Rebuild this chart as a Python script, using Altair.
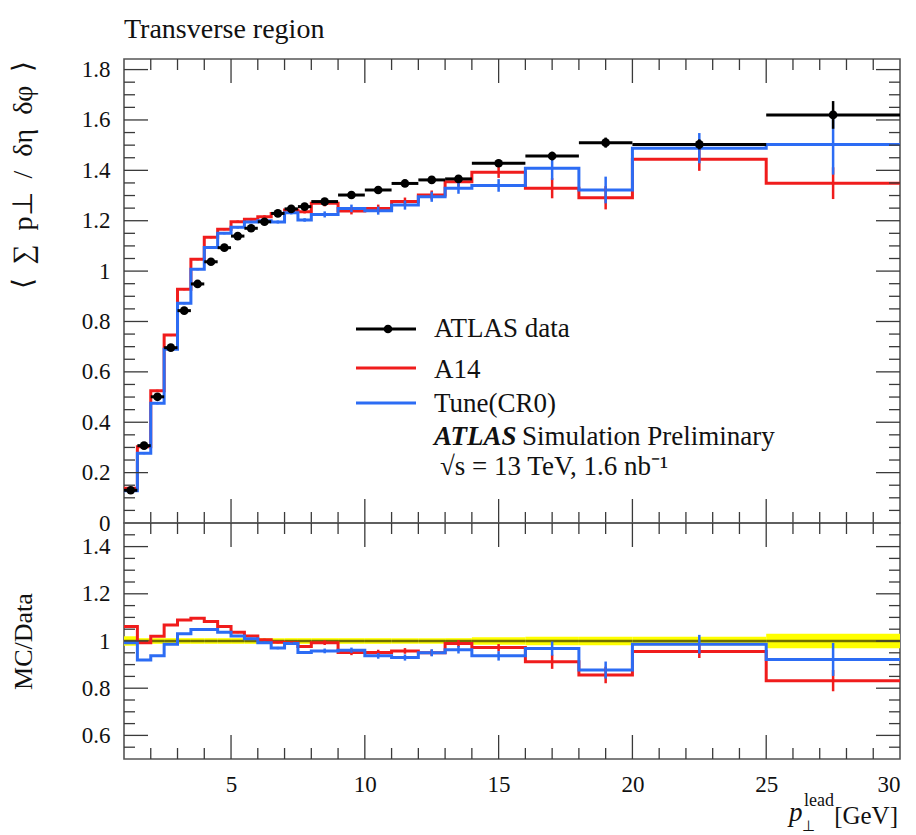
import altair as alt
import pandas as pd

# ---------------- data ----------------
edges = [1.0, 1.5, 2.0, 2.5, 3.0, 3.5, 4.0, 4.5, 5.0, 5.5, 6.0, 6.5, 7.0, 7.5, 8.0,
         9.0, 10.0, 11.0, 12.0, 13.0, 14.0, 16.0, 18.0, 20.0, 25.0, 30.0]

data_y = [0.130, 0.307, 0.501, 0.696, 0.843, 0.949, 1.037, 1.093, 1.139, 1.170,
          1.196, 1.229, 1.247, 1.256, 1.276, 1.302, 1.322, 1.348, 1.362, 1.366,
          1.428, 1.457, 1.510, 1.503, 1.620]
data_err = [0.004, 0.004, 0.004, 0.004, 0.004, 0.004, 0.004, 0.004, 0.004, 0.004,
            0.004, 0.004, 0.004, 0.004, 0.006, 0.006, 0.006, 0.007, 0.008, 0.008,
            0.010, 0.017, 0.020, 0.020, 0.055]

a14_y = [0.138, 0.303, 0.525, 0.746, 0.928, 1.047, 1.134, 1.166, 1.196, 1.206,
         1.216, 1.229, 1.243, 1.236, 1.269, 1.239, 1.249, 1.276, 1.302, 1.355,
         1.392, 1.329, 1.291, 1.444, 1.349]
a14_err = [0.004, 0.004, 0.004, 0.004, 0.004, 0.004, 0.004, 0.004, 0.005, 0.005,
           0.006, 0.006, 0.007, 0.007, 0.012, 0.014, 0.015, 0.016, 0.018, 0.020,
           0.022, 0.040, 0.046, 0.046, 0.063]

cr0_y = [0.128, 0.277, 0.475, 0.690, 0.872, 1.007, 1.094, 1.150, 1.174, 1.195,
         1.200, 1.195, 1.232, 1.203, 1.225, 1.249, 1.240, 1.262, 1.295, 1.329,
         1.340, 1.408, 1.322, 1.488, 1.503]
cr0_err = [0.004, 0.004, 0.004, 0.004, 0.004, 0.004, 0.004, 0.004, 0.005, 0.005,
           0.006, 0.006, 0.007, 0.007, 0.012, 0.015, 0.016, 0.018, 0.020, 0.022,
           0.025, 0.046, 0.053, 0.060, 0.120]

a14_ratio = [1.061, 0.993, 1.020, 1.068, 1.089, 1.096, 1.083, 1.061, 1.037, 1.021,
             1.005, 0.995, 0.993, 0.977, 0.993, 0.951, 0.951, 0.958, 0.950, 0.989,
             0.972, 0.912, 0.856, 0.956, 0.832]
a14_rerr = [0.003, 0.003, 0.003, 0.003, 0.003, 0.003, 0.003, 0.003, 0.004, 0.004,
            0.005, 0.005, 0.005, 0.005, 0.010, 0.011, 0.012, 0.012, 0.013, 0.015,
            0.015, 0.030, 0.035, 0.028, 0.045]

cr0_ratio = [0.993, 0.919, 0.937, 0.986, 1.031, 1.049, 1.049, 1.037, 1.021, 1.010,
             0.993, 0.970, 0.989, 0.951, 0.958, 0.961, 0.937, 0.930, 0.950, 0.963,
             0.937, 0.968, 0.877, 0.986, 0.922]
cr0_rerr = [0.003, 0.003, 0.003, 0.003, 0.003, 0.003, 0.003, 0.003, 0.004, 0.004,
            0.005, 0.005, 0.005, 0.005, 0.010, 0.011, 0.012, 0.013, 0.015, 0.016,
            0.020, 0.030, 0.036, 0.040, 0.070]

band_err = [0.020, 0.012, 0.012, 0.012, 0.012, 0.012, 0.012, 0.012, 0.012, 0.012,
            0.012, 0.012, 0.012, 0.012, 0.012, 0.012, 0.012, 0.012, 0.012, 0.012,
            0.016, 0.018, 0.018, 0.018, 0.031]

x_tick_labels = [5, 10, 15, 20, 25, 30]
top_y_labels = [0, 0.2, 0.4, 0.6, 0.8, 1.0, 1.2, 1.4, 1.6, 1.8]
bot_y_labels = [0.6, 0.8, 1.0, 1.2, 1.4]

# ---------------- styling ----------------
W, H1, H2 = 776, 464, 236
FONT = "Liberation Serif"
RED = "#f01c1c"
BLUE = "#2c6cf4"
TICK = "#3a3a3a"
MAJ, MIN = 24, 11
NB = "\u00a0"

lo = edges[:-1]
hi = edges[1:]
mid = [(a + b) / 2 for a, b in zip(lo, hi)]

bins = pd.DataFrame({
    "lo": lo, "hi": hi, "mid": mid,
    "data": data_y,
    "d_lo": [v - e for v, e in zip(data_y, data_err)],
    "d_hi": [v + e for v, e in zip(data_y, data_err)],
    "a14_lo": [v - e for v, e in zip(a14_y, a14_err)],
    "a14_hi": [v + e for v, e in zip(a14_y, a14_err)],
    "cr0_lo": [v - e for v, e in zip(cr0_y, cr0_err)],
    "cr0_hi": [v + e for v, e in zip(cr0_y, cr0_err)],
    "ra_lo": [v - e for v, e in zip(a14_ratio, a14_rerr)],
    "ra_hi": [v + e for v, e in zip(a14_ratio, a14_rerr)],
    "rc_lo": [v - e for v, e in zip(cr0_ratio, cr0_rerr)],
    "rc_hi": [v + e for v, e in zip(cr0_ratio, cr0_rerr)],
    "b_lo": [1 - e for e in band_err],
    "b_hi": [1 + e for e in band_err],
})


def steps(vals):
    return pd.DataFrame({"x": edges, "y": list(vals) + [vals[-1]]})


xs = alt.Scale(domain=[1, 30], nice=False, zero=False)
ys_top = alt.Scale(domain=[0, 1.842], nice=False, zero=False)
ys_bot = alt.Scale(domain=[0.5, 1.5], nice=False, zero=False)

ytitle = "⟨" + NB * 2 + "∑" + NB * 2 + "p⊥" + NB * 2 + "/" + NB * 2 + "δη" + NB * 2 + "δφ" + NB * 2 + "⟩"

ax_x_bot = alt.Axis(values=x_tick_labels, ticks=False, domain=False, grid=False, title=None,
                    labelFont=FONT, labelFontSize=23, labelColor="#111", labelPadding=14)
ax_y_top = alt.Axis(values=top_y_labels, format="~g", ticks=False, domain=False, grid=False,
                    labelFont=FONT, labelFontSize=23, labelColor="#111", labelPadding=14,
                    title=ytitle, titleFont=FONT, titleFontSize=28,
                    titleFontWeight="normal", titleColor="#111", titleAngle=270,
                    titleAlign="right", titleBaseline="middle", titleX=-101, titleY=1)
ax_y_bot = alt.Axis(values=bot_y_labels, format="~g", ticks=False, domain=False, grid=False,
                    labelFont=FONT, labelFontSize=23, labelColor="#111", labelPadding=14,
                    title="MC/Data", titleFont=FONT, titleFontSize=26,
                    titleFontWeight="normal", titleColor="#111", titleAngle=270,
                    titleAlign="center", titleBaseline="middle", titleX=-101, titleY=H2 / 2)


def X(field, top=True):
    if top:
        return alt.X(field, type="quantitative", scale=xs, axis=None)
    return alt.X(field, type="quantitative", scale=xs, axis=ax_x_bot)


def Y(field, top=True):
    return alt.Y(field, type="quantitative", scale=ys_top if top else ys_bot,
                 axis=ax_y_top if top else ax_y_bot)


one = pd.DataFrame({"a": [0]})

# tick mark positions (axis decorations)
x_major = [5, 10, 15, 20, 25]
x_minor = [v for v in range(2, 30) if v % 5 != 0]
ytop_major = top_y_labels[1:]
ytop_minor = [round(0.05 * i, 2) for i in range(1, 37) if i % 4 != 0]
ybot_major = [0.6, 0.8, 1.0, 1.2, 1.4]
ybot_minor = [round(0.5 + 0.05 * i, 2) for i in range(1, 20) if round(0.5 + 0.05 * i, 2) not in ybot_major]


def tick_layers(top, H):
    out = []
    xt = pd.DataFrame({"v": x_major + x_minor,
                       "len": [MAJ] * len(x_major) + [MIN] * len(x_minor)})
    yvals = (ytop_major, ytop_minor) if top else (ybot_major, ybot_minor)
    yt = pd.DataFrame({"v": yvals[0] + yvals[1],
                       "len": [MAJ] * len(yvals[0]) + [MIN] * len(yvals[1])})
    for L in (MAJ, MIN):
        xsub = xt[xt["len"] == L]
        ysub = yt[yt["len"] == L]
        out.append(alt.Chart(xsub).mark_rule(color=TICK, strokeWidth=1.3).encode(
            x=X("v:Q", top), y=alt.value(0), y2=alt.value(L)))
        out.append(alt.Chart(xsub).mark_rule(color=TICK, strokeWidth=1.3).encode(
            x=X("v:Q", top), y=alt.value(H), y2=alt.value(H - L)))
        out.append(alt.Chart(ysub).mark_rule(color=TICK, strokeWidth=1.3).encode(
            y=Y("v:Q", top), x=alt.value(0), x2=alt.value(L)))
        out.append(alt.Chart(ysub).mark_rule(color=TICK, strokeWidth=1.3).encode(
            y=Y("v:Q", top), x=alt.value(W), x2=alt.value(W - L)))
    return out


# ---------------- top panel ----------------
top_layers = []
top_layers.append(alt.Chart(steps(a14_y)).mark_line(interpolate="step-after", color=RED,
                                                     strokeWidth=3, clip=True).encode(
    x=X("x:Q"), y=Y("y:Q")))
top_layers.append(alt.Chart(steps(cr0_y)).mark_line(interpolate="step-after", color=BLUE,
                                                     strokeWidth=3, clip=True).encode(
    x=X("x:Q"), y=Y("y:Q")))
top_layers.append(alt.Chart(bins).mark_rule(color=RED, strokeWidth=2.5).encode(
    x=X("mid:Q"), y=Y("a14_lo:Q"), y2="a14_hi:Q"))
top_layers.append(alt.Chart(bins).mark_rule(color=BLUE, strokeWidth=2.5).encode(
    x=X("mid:Q"), y=Y("cr0_lo:Q"), y2="cr0_hi:Q"))
top_layers.append(alt.Chart(bins).mark_rule(color="black", strokeWidth=3).encode(
    x=X("lo:Q"), x2="hi:Q", y=Y("data:Q")))
top_layers.append(alt.Chart(bins).mark_rule(color="black", strokeWidth=2.5).encode(
    x=X("mid:Q"), y=Y("d_lo:Q"), y2="d_hi:Q"))
top_layers.append(alt.Chart(bins).mark_circle(color="black", size=75, opacity=1).encode(
    x=X("mid:Q"), y=Y("data:Q")))
top_layers += tick_layers(True, H1)

# legend / annotations
LX0, LX1, TX = 232, 292, 310
top_layers.append(alt.Chart(one).mark_rule(color="black", strokeWidth=3).encode(
    x=alt.value(LX0), x2=alt.value(LX1), y=alt.value(270)))
top_layers.append(alt.Chart(one).mark_circle(color="black", size=75, opacity=1).encode(
    x=alt.value(264), y=alt.value(270)))
top_layers.append(alt.Chart(one).mark_rule(color=RED, strokeWidth=3).encode(
    x=alt.value(LX0), x2=alt.value(LX1), y=alt.value(309)))
top_layers.append(alt.Chart(one).mark_rule(color=BLUE, strokeWidth=3).encode(
    x=alt.value(LX0), x2=alt.value(LX1), y=alt.value(344)))


def label(txt, x, y, size=27, **kw):
    return alt.Chart(one).mark_text(text=txt, font=FONT, fontSize=size, align="left",
                                    baseline="middle", color="#111", **kw).encode(
        x=alt.value(x), y=alt.value(y))


top_layers.append(label("ATLAS data", TX, 270))
top_layers.append(label("A14", TX, 311))
top_layers.append(label("Tune(CR0)", TX, 345))
top_layers.append(label("ATLAS", TX, 378, fontStyle="italic", fontWeight="bold"))
top_layers.append(label("Simulation Preliminary", TX + 88, 378))
top_layers.append(label("√s = 13 TeV, 1.6 nb⁻¹", TX + 6, 408))
top_layers.append(alt.Chart(one).mark_text(text="Transverse region", font=FONT, fontSize=28,
                                           align="left", baseline="middle", color="#111").encode(
    x=alt.value(0), y=alt.value(-29)))

top = alt.layer(*top_layers).properties(width=W, height=H1)

# ---------------- ratio panel ----------------
bot_layers = []
bot_layers.append(alt.Chart(bins).mark_rect(color="#ffff00", opacity=1).encode(
    x=X("lo:Q", False), x2="hi:Q", y=Y("b_lo:Q", False), y2="b_hi:Q"))
bot_layers.append(alt.Chart(bins).mark_rule(color="#6f6f00", strokeWidth=2.5).encode(
    x=X("lo:Q", False), x2="hi:Q", y=alt.Y(datum=1, scale=ys_bot, axis=ax_y_bot)))
bot_layers.append(alt.Chart(steps(a14_ratio)).mark_line(interpolate="step-after", color=RED,
                                                         strokeWidth=3, clip=True).encode(
    x=X("x:Q", False), y=Y("y:Q", False)))
bot_layers.append(alt.Chart(steps(cr0_ratio)).mark_line(interpolate="step-after", color=BLUE,
                                                         strokeWidth=3, clip=True).encode(
    x=X("x:Q", False), y=Y("y:Q", False)))
bot_layers.append(alt.Chart(bins).mark_rule(color=RED, strokeWidth=2.5).encode(
    x=X("mid:Q", False), y=Y("ra_lo:Q", False), y2="ra_hi:Q"))
bot_layers.append(alt.Chart(bins).mark_rule(color=BLUE, strokeWidth=2.5).encode(
    x=X("mid:Q", False), y=Y("rc_lo:Q", False), y2="rc_hi:Q"))
bot_layers += tick_layers(False, H2)

# x-axis title  p_perp^lead [GeV]
bot_layers.append(alt.Chart(one).mark_text(text="[GeV]", font=FONT, fontSize=25, align="right",
                                           baseline="middle", color="#111").encode(
    x=alt.value(774), y=alt.value(293)))
bot_layers.append(alt.Chart(one).mark_text(text="lead", font=FONT, fontSize=18, align="right",
                                           baseline="middle", color="#111").encode(
    x=alt.value(710), y=alt.value(278)))
bot_layers.append(alt.Chart(one).mark_text(text="p", font=FONT, fontSize=27, fontStyle="italic",
                                           align="left", baseline="middle", color="#111").encode(
    x=alt.value(665), y=alt.value(290)))
bot_layers.append(alt.Chart(one).mark_text(text="⊥", font=FONT, fontSize=15, align="left",
                                           baseline="middle", color="#111").encode(
    x=alt.value(678), y=alt.value(303)))

bottom = alt.layer(*bot_layers).properties(width=W, height=H2)

chart = alt.vconcat(top, bottom, spacing=0, bounds="flush").properties(
    background="white",
    padding={"left": 0, "top": 7, "right": 5, "bottom": 5},
).configure_view(stroke="#555", strokeWidth=1.6)

chart.save("out.html", embed_options={"renderer": "svg", "actions": False})
